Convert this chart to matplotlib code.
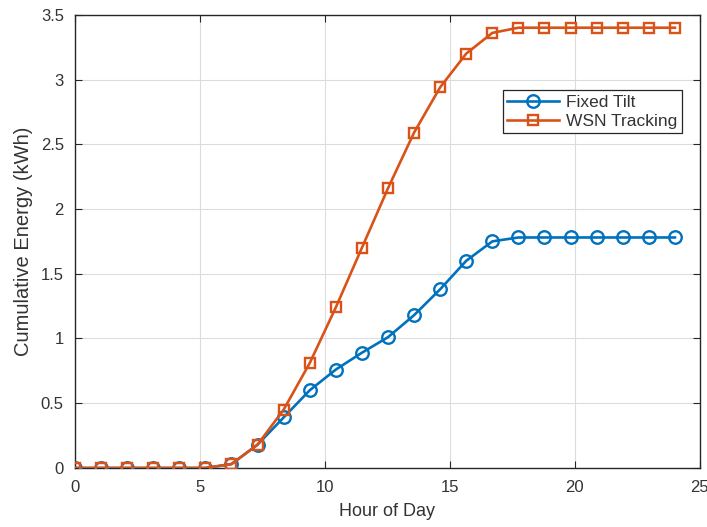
import numpy as np
import matplotlib
matplotlib.use("Agg")
import matplotlib.pyplot as plt

plt.rcParams['font.family'] = ['Liberation Sans', 'DejaVu Sans']

hours = np.linspace(0, 24, 24)
fixed_tilt = [0, 0, 0, 0, 0, 0, 0.03, 0.18, 0.39, 0.60, 0.76, 0.89, 1.01, 1.18,
              1.38, 1.60, 1.75, 1.78, 1.78, 1.78, 1.78, 1.78, 1.78, 1.78]
wsn_tracking = [0, 0, 0, 0, 0, 0, 0.03, 0.18, 0.45, 0.81, 1.24, 1.70, 2.16, 2.59,
                2.94, 3.20, 3.36, 3.40, 3.40, 3.40, 3.40, 3.40, 3.40, 3.40]
xticks = [0, 5, 10, 15, 20, 25]
yticks = [0, 0.5, 1, 1.5, 2, 2.5, 3, 3.5]
ytick_labels = ['0', '0.5', '1', '1.5', '2', '2.5', '3', '3.5']

blue = '#0072BD'
orange = '#D95319'
txt = '#333333'

fig = plt.figure(figsize=(7.07, 5.27), dpi=100)
ax = fig.add_axes([0.106, 0.112, 0.884, 0.86])

ax.plot(hours, fixed_tilt, '-o', color=blue, lw=1.9, ms=9, mfc='none', mew=1.7,
        label='Fixed Tilt', zorder=3)
ax.plot(hours, wsn_tracking, '-s', color=orange, lw=1.9, ms=7.5, mfc='none', mew=1.7,
        label='WSN Tracking', zorder=3)

ax.set_xlim(0, 25)
ax.set_ylim(0, 3.5)
ax.set_xticks(xticks)
ax.set_xticklabels([str(t) for t in xticks])
ax.set_yticks(yticks)
ax.set_yticklabels(ytick_labels)
ax.grid(True, color='#dcdcdc', lw=0.8)
ax.set_axisbelow(True)
ax.tick_params(direction='in', top=True, right=True, labelsize=12, labelcolor=txt,
               colors='#262626', length=5, width=0.8)
ax.tick_params(axis='x', pad=9)
ax.tick_params(axis='y', pad=8)
for s in ax.spines.values():
    s.set_color('#262626')
    s.set_linewidth(1.0)

ax.set_xlabel('Hour of Day', fontsize=13, color=txt)
ax.set_ylabel('Cumulative Energy (kWh)', fontsize=14.5, color=txt)
ax.xaxis.set_label_coords(0.5, -0.078)
ax.yaxis.set_label_coords(-0.083, 0.5)
ax.xaxis.label.set_va('top')
ax.yaxis.label.set_va('center')

leg = ax.legend(loc='upper left', bbox_to_anchor=(0.685, 0.833), fontsize=12.5,
                frameon=True, fancybox=False, edgecolor='#262626', framealpha=1,
                handlelength=3.0, borderpad=0.25, labelspacing=0.22, handletextpad=0.4,
                borderaxespad=0)
leg.get_frame().set_linewidth(0.9)
for t in leg.get_texts():
    t.set_color(txt)

fig.savefig('out.png', dpi=100)
